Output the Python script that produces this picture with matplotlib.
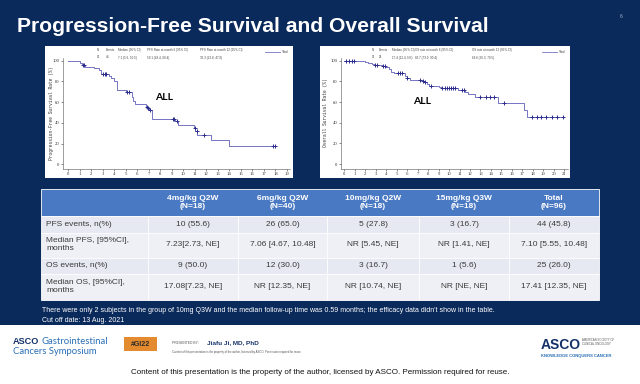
import numpy as np
import matplotlib
matplotlib.use("Agg")
import matplotlib.pyplot as plt
from matplotlib.patches import Rectangle

W, H = 640, 384
NAVY = "#0b2a5c"
HDR_BLUE = "#4a79c3"
ROW_A = "#e6e9f1"
ROW_B = "#eef0f6"
LINE_C = "#7474c4"
MARK_C = "#2c2c8c"

title = "Progression-Free Survival and Overall Survival"

# ---- Kaplan-Meier data ----
pfs_time = [0, 1.05, 1.2, 1.45, 2.2, 2.7, 2.8, 3.55, 3.75, 3.95, 4.2, 5.0, 5.5, 5.65,
            5.8, 6.75, 6.9, 7.05, 7.3, 9.3, 9.55, 10.9, 11.05, 11.2, 12.4, 13.95]
pfs_surv = [100, 97.5, 96, 93.5, 92.5, 91, 87, 85.5, 83.5, 80, 71.5, 69.5, 65, 61,
            58, 55.7, 54, 52, 43.5, 41.5, 38, 35, 32, 28.5, 23.5, 17.5]
pfs_end = 18.0
pfs_censor = [1.25, 1.35, 3.0, 3.15, 3.3, 5.1, 5.3, 6.8, 6.95, 7.1, 9.1, 9.2,
              9.45, 11.0, 11.15, 11.8, 17.75, 18.0]

os_time = [0, 1.2, 2.0, 2.3, 2.6, 2.85, 3.6, 3.9, 4.3, 4.5, 4.75, 5.8, 5.95, 6.3,
           7.4, 7.6, 7.85, 8.1, 9.0, 9.2, 10.9, 11.5, 11.8, 12.5, 14.7, 17.15, 17.4]
os_surv = [100, 99.3, 98.4, 97.4, 96.5, 95.5, 94.8, 93.9, 91.6, 89.4, 87.7, 85.2,
           82.9, 81.3, 80.3, 79, 77.4, 75.8, 74.5, 73.9, 71.6, 70, 67.7, 65.2,
           58.7, 52.3, 45.8]
os_end = 21.0
os_censor = [0.2, 0.45, 0.7, 0.95, 2.95, 3.1, 3.7, 3.85, 5.15, 5.35, 5.5, 6.0, 7.2,
             7.5, 7.7, 8.3, 9.3, 9.6, 9.8, 10.0, 10.2, 10.4, 10.6, 11.2, 11.4, 13.0,
             13.5, 13.9, 14.3, 15.2, 17.9, 18.4, 18.8, 19.3, 19.8, 20.3, 20.9]

pfs_xticks = list(range(0, 20))
os_xticks = list(range(0, 22))
yticks = [0, 20, 40, 60, 80, 100]

pfs_header = ["N", "Events", "Median (95% CI)", "PFS Rate at month 6 (95% CI)",
              "PFS Rate at month 12 (95% CI)"]
pfs_header_vals = ["96", "44", "7.1 (5.6, 10.5)", "59.1 (48.4, 68.4)",
                   "35.3 (23.8, 47.0)"]
os_header = ["N", "Events", "Median (95% CI)", "OS rate at month 6 (95% CI)",
             "OS rate at month 12 (95% CI)"]
os_header_vals = ["96", "25", "17.4 (12.4, NE)", "83.7 (73.0, 90.4)",
                  "69.6 (56.3, 79.5)"]

# ---- table data ----
col_headers = ["4mg/kg Q2W\n(N=18)", "6mg/kg Q2W\n(N=40)", "10mg/kg Q2W\n(N=18)",
               "15mg/kg Q3W\n(N=18)", "Total\n(N=96)"]
row_labels = ["PFS events, n(%)", "Median PFS, [95%CI],\nmonths",
              "OS events, n(%)", "Median OS, [95%CI],\nmonths"]
cells = [
    ["10 (55.6)", "26 (65.0)", "5 (27.8)", "3 (16.7)", "44 (45.8)"],
    ["7.23[2.73, NE]", "7.06 [4.67, 10.48]", "NR [5.45, NE]", "NR [1.41, NE]",
     "7.10 [5.55, 10.48]"],
    ["9 (50.0)", "12 (30.0)", "3 (16.7)", "1 (5.6)", "25 (26.0)"],
    ["17.08[7.23, NE]", "NR [12.35, NE]", "NR [10.74, NE]", "NR [NE, NE]",
     "17.41 [12.35, NE]"],
]

footnote1 = ("There were only 2 subjects in the group of 10mg Q3W and the median "
             "follow-up time was 0.59 months; the efficacy data didn't show in the table.")
footnote2 = "Cut off date: 13 Aug. 2021"
copyright_txt = ("Content of this presentation is the property of the author, "
                 "licensed by ASCO. Permission required for reuse.")

SANS = "Liberation Sans"
SERIF = "Liberation Serif"
MONO = "Liberation Mono"

fig = plt.figure(figsize=(6.4, 3.84), dpi=100)
fig.patch.set_facecolor("white")

bg = fig.add_axes([0, 0, 1, 1], zorder=0)
bg.set_xlim(0, W); bg.set_ylim(H, 0); bg.axis("off")
bg.add_patch(Rectangle((0, 0), W, 325, color=NAVY, lw=0))
bg.add_patch(Rectangle((45, 46), 248, 132, color="white", lw=0))
bg.add_patch(Rectangle((320, 46), 250, 132, color="white", lw=0))


def km_axes(px0, px1, py0, py1, x0px, xNpx, xN, y0px, y100px,
            times, surv, end, censor, xticks):
    ax = fig.add_axes([px0 / W, 1 - py1 / H, (px1 - px0) / W, (py1 - py0) / H],
                      zorder=2)
    ax.patch.set_alpha(0)
    sx = (xNpx - x0px) / xN
    ax.set_xlim((px0 - x0px) / sx, (px1 - x0px) / sx)
    sy = (y0px - y100px) / 100.0
    ax.set_ylim((y0px - py1) / sy, (y0px - py0) / sy)
    t = list(times) + [end]
    s = list(surv) + [surv[-1]]
    ax.step(t, s, where="post", color=LINE_C, lw=0.7)
    tarr = np.asarray(times)
    cs = [surv[int(np.searchsorted(tarr, c, side="right")) - 1] for c in censor]
    ax.plot(censor, cs, "+", color=MARK_C, ms=2.6, mew=0.7)
    for sp in ("top", "right"):
        ax.spines[sp].set_visible(False)
    for sp in ("left", "bottom"):
        ax.spines[sp].set_linewidth(0.4)
        ax.spines[sp].set_color("#555555")
    ax.set_xticks(xticks)
    ax.set_yticks(yticks)
    ax.tick_params(length=1.5, width=0.4, pad=1, labelsize=3.4, colors="#333333")
    for lab in ax.get_xticklabels() + ax.get_yticklabels():
        lab.set_fontfamily(SERIF)
    return ax


ax1 = km_axes(63, 290, 58, 169, 68.3, 287, 19, 164.3, 60.7,
              pfs_time, pfs_surv, pfs_end, pfs_censor, pfs_xticks)
ax2 = km_axes(341, 568, 58, 169, 344.3, 564.3, 21, 164, 60.7,
              os_time, os_surv, os_end, os_censor, os_xticks)

fg = fig.add_axes([0, 0, 1, 1], zorder=3)
fg.set_xlim(0, W); fg.set_ylim(H, 0); fg.axis("off")
fg.patch.set_alpha(0)

# title & page number
fg.text(17, 32, title, color="white", fontsize=15.2, fontweight="bold",
        family=SANS, va="baseline", ha="left")
fg.text(621, 16, "6", color="#aab4c8", fontsize=3.5, family=SANS, ha="center",
        va="center")

# KM headers, y labels, legends, ALL labels
for xs, hdr, vals, ylab, yx, legx, allx, ally in (
        ([97, 106, 118, 147, 200], pfs_header, pfs_header_vals,
         "Progression-Free Survival Rate (%)", 51, 265, 164, 97),
        ([372, 379, 392, 415, 472], os_header, os_header_vals,
         "Overall Survival Rate (%)", 326, 542, 422, 101)):
    for x, h_, v_ in zip(xs, hdr, vals):
        fg.text(x, 50, h_, fontsize=2.2, family=SANS, color="#444444",
                va="center", ha="left")
        fg.text(x, 57.5, v_, fontsize=2.2, family=SANS, color="#444444",
                va="center", ha="left")
    fg.text(yx, 113, ylab, fontsize=3.3, family=MONO, color="#333333",
            rotation=90, ha="center", va="center")
    fg.plot([legx, legx + 15], [52, 52], color=LINE_C, lw=0.6)
    fg.text(legx + 17, 52, "Total", fontsize=2.3, family=SANS, color="#444444",
            va="center", ha="left")
    fg.text(allx, ally, "ALL", fontsize=7.5, family="Lato", fontweight="bold",
            color="black", ha="center", va="center")

# table
col_edges = [41, 148, 238, 327, 419, 509, 599]
row_edges = [189, 216, 232.5, 257.5, 274, 300]
fs = 6.0
fg.add_patch(Rectangle((col_edges[0], row_edges[0]),
                       col_edges[-1] - col_edges[0], row_edges[1] - row_edges[0],
                       facecolor=HDR_BLUE, edgecolor="white", lw=0.6))
for j, hdr in enumerate(col_headers):
    cx = (col_edges[j + 1] + col_edges[j + 2]) / 2
    fg.text(cx, (row_edges[0] + row_edges[1]) / 2, hdr, color="white", fontsize=fs,
            fontweight="bold", family=SANS, ha="center", va="center",
            linespacing=1.15)
for i in range(len(row_labels)):
    y0, y1 = row_edges[i + 1], row_edges[i + 2]
    color = ROW_A if i % 2 == 0 else ROW_B
    for j in range(len(col_edges) - 1):
        fg.add_patch(Rectangle((col_edges[j], y0), col_edges[j + 1] - col_edges[j],
                               y1 - y0, facecolor=color, edgecolor="white", lw=0.6))
    fg.text(col_edges[0] + 5, (y0 + y1) / 2, row_labels[i], color="#3a3a3a",
            fontsize=fs, family=SANS, ha="left", va="center", linespacing=1.2)
    for j, val in enumerate(cells[i]):
        cx = (col_edges[j + 1] + col_edges[j + 2]) / 2
        fg.text(cx, (y0 + y1) / 2, val, color="#3a3a3a", fontsize=fs, family=SANS,
                ha="center", va="center")

fg.text(42, 311, footnote1, color="white", fontsize=5.05, family=SANS,
        ha="left", va="center")
fg.text(42, 320, footnote2, color="white", fontsize=5.05, family=SANS,
        ha="left", va="center")

# footer
fg.text(13, 341, "ASCO", color="#14326a", fontsize=6.6, fontweight="bold",
        family=SANS, ha="left", va="center")
fg.text(41, 341, "Gastrointestinal", color="#2a6fb6", fontsize=6.8,
        family="Lato", ha="left", va="center")
fg.text(13, 352, "Cancers Symposium", color="#2a6fb6", fontsize=6.8,
        family="Lato", ha="left", va="center")
fg.add_patch(Rectangle((124, 337), 33, 14, facecolor="#e38b2e", lw=0))
fg.text(140.5, 344, "#GI22", color="#2b2b2b", fontsize=5.0, fontweight="bold",
        family=SANS, ha="center", va="center")
fg.text(172, 343, "PRESENTED BY:", color="#555555", fontsize=2.4, family=SANS,
        ha="left", va="center")
fg.text(207, 343, "Jiafu Ji, MD, PhD", color="#14326a", fontsize=4.6,
        fontweight="bold", family=SANS, ha="left", va="center")
fg.text(172, 352, copyright_txt, color="#555555", fontsize=2.0, family=SANS,
        ha="left", va="center")
fg.text(541, 345, "ASCO", color="#14326a", fontsize=10, fontweight="bold",
        family=SANS, ha="left", va="center")
fg.text(582, 342, "AMERICAN SOCIETY OF\nCLINICAL ONCOLOGY", color="#555555",
        fontsize=2.0, family=SANS, ha="left", va="center", linespacing=1.2)
fg.text(541, 356, "KNOWLEDGE CONQUERS CANCER", color="#2a6fb6", fontsize=3.0,
        fontweight="bold", family=SANS, ha="left", va="center")
fg.text(320, 373, copyright_txt, color="#111111", fontsize=5.8, family=SANS,
        ha="center", va="center")

fig.savefig("out.png", dpi=100, facecolor="white")
